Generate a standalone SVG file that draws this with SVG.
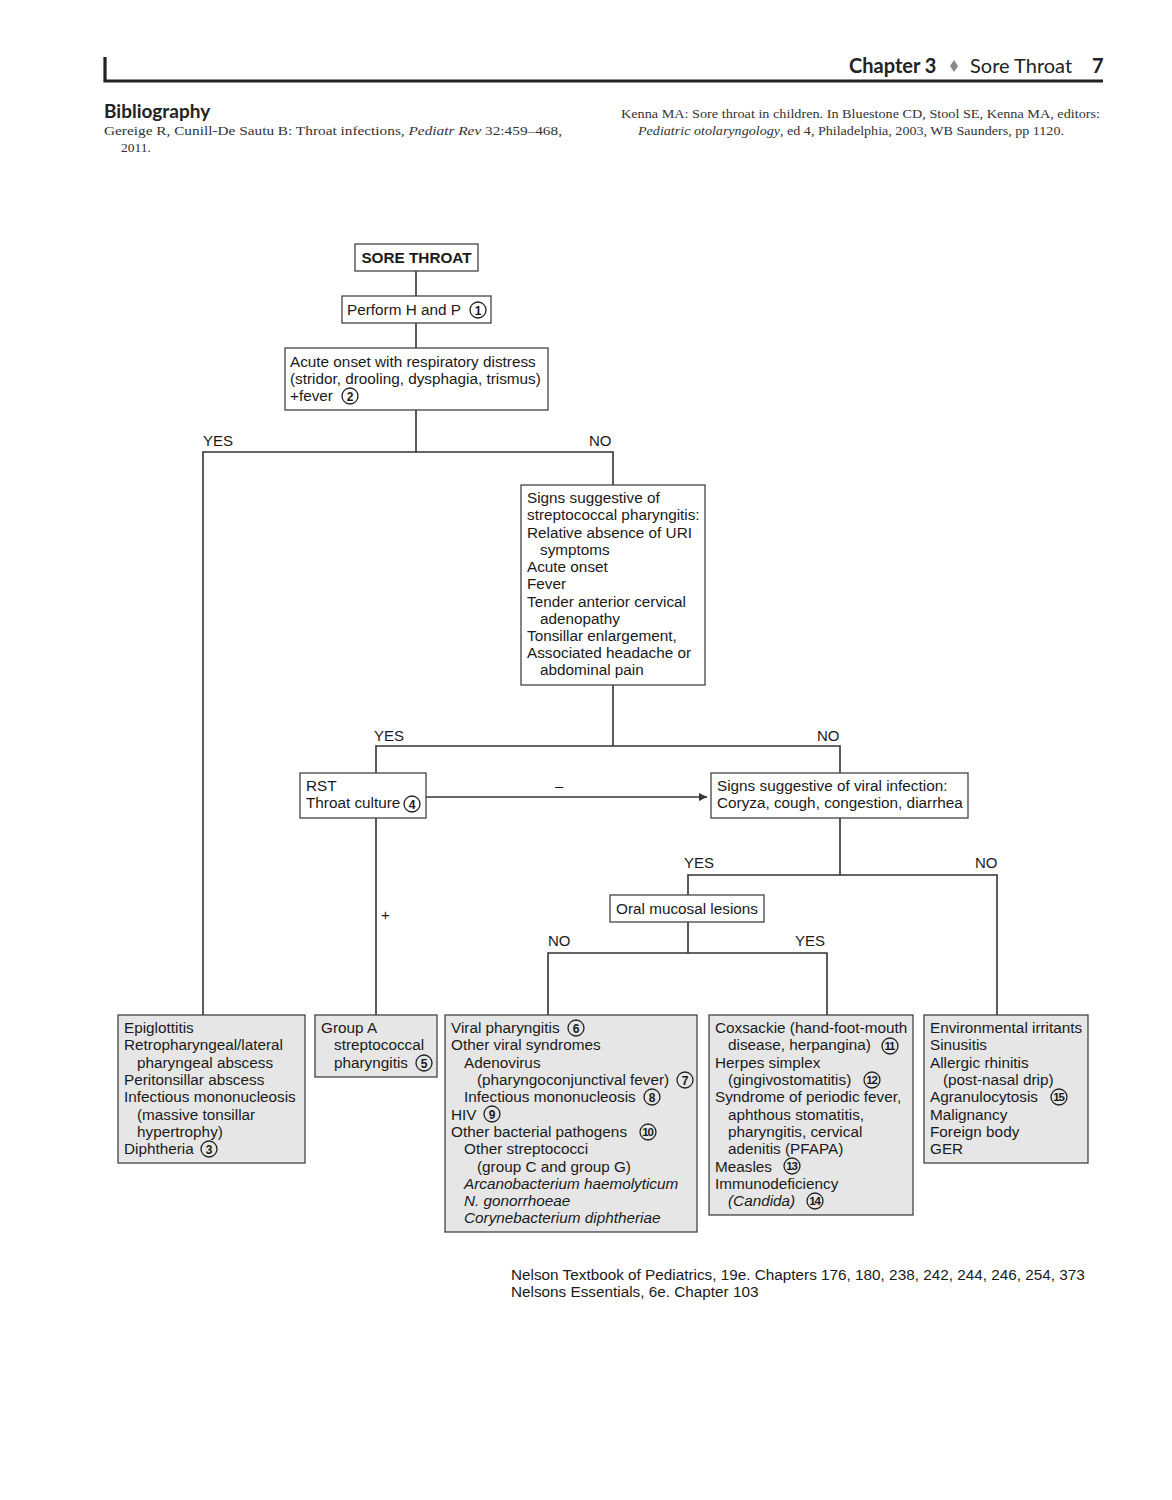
<svg xmlns="http://www.w3.org/2000/svg" width="1172" height="1500" viewBox="0 0 1172 1500">
<style>
.t{font-family:"Liberation Sans",Arial,sans-serif;font-size:15.3px;fill:#1a1a1a}
.b{font-weight:bold}
.i{font-style:italic}
.lbl{font-family:"Liberation Sans",Arial,sans-serif;font-size:15px;fill:#1a1a1a}
.box{fill:#fff;stroke:#444;stroke-width:1.3}
.gbox{fill:#e6e6e6;stroke:#444;stroke-width:1.3}
.ln{fill:none;stroke:#333;stroke-width:1.6}
.cc{fill:none;stroke:#222;stroke-width:1.3}
.cn{font-family:"Liberation Sans",Arial,sans-serif;font-size:12px;font-weight:bold;fill:#1a1a1a;text-anchor:middle}
.c2{font-size:11.5px;letter-spacing:-1.3px}
.hd{font-family:Lato,"Open Sans",sans-serif;fill:#222}
.ser{font-family:"Liberation Serif","Times New Roman",serif;font-size:13.5px;fill:#333}
</style>
<defs>
<marker id="ah" viewBox="0 0 10 10" refX="10" refY="5" markerWidth="11" markerHeight="8" markerUnits="userSpaceOnUse" orient="auto"><path d="M0,0 L10,5 L0,10 z" fill="#333"/></marker>
</defs>
<rect width="1172" height="1500" fill="#fff"/>

<g id="header">
<path d="M105,57 V81 H1103" fill="none" stroke="#222" stroke-width="3.2"/>
<text class="hd" x="849" y="73" font-size="20" font-weight="bold">Chapter 3</text>
<path d="M954,60 L958,66 L954,72 L950,66 z" fill="#888"/>
<text class="hd" x="970" y="73" font-size="20">Sore Throat</text>
<text class="hd" x="1092" y="73" font-size="20" font-weight="bold">7</text>
<text class="hd" x="104" y="118" font-size="19" font-weight="bold">Bibliography</text>
<text class="ser" x="104" y="135" textLength="458" lengthAdjust="spacingAndGlyphs">Gereige R, Cunill-De Sautu B: Throat infections, <tspan font-style="italic">Pediatr Rev</tspan> 32:459–468,</text>
<text class="ser" x="121" y="152">2011.</text>
<text class="ser" x="621" y="118" textLength="479" lengthAdjust="spacingAndGlyphs">Kenna MA: Sore throat in children. In Bluestone CD, Stool SE, Kenna MA, editors:</text>
<text class="ser" x="638" y="135" textLength="426" lengthAdjust="spacingAndGlyphs"><tspan font-style="italic">Pediatric otolaryngology</tspan>, ed 4, Philadelphia, 2003,  WB Saunders, pp 1120.</text>
</g>

<g id="connectors">
<path class="ln" d="M416,271 V296"/>
<path class="ln" d="M416,323 V348"/>
<path class="ln" d="M416,410 V452 M203,1015 V452 H613 V485"/>
<path class="ln" d="M613,685 V746 M376,773 V746 H840 V773"/>
<path class="ln" d="M426,797 H707" marker-end="url(#ah)"/>
<path class="ln" d="M376,818 V1015"/>
<path class="ln" d="M840,818 V875 M688,895 V875 H997 V1015"/>
<path class="ln" d="M688,922 V953 M548,1015 V953 H827 V1015"/>
<text class="lbl" x="203" y="446">YES</text>
<text class="lbl" x="589" y="446">NO</text>
<text class="lbl" x="374" y="741">YES</text>
<text class="lbl" x="817" y="741">NO</text>
<text class="lbl" x="555" y="791">–</text>
<text class="lbl" x="381" y="920">+</text>
<text class="lbl" x="684" y="868">YES</text>
<text class="lbl" x="975" y="868">NO</text>
<text class="lbl" x="548" y="946">NO</text>
<text class="lbl" x="795" y="946">YES</text>
</g>

<g id="sore-throat">
<rect class="box" x="355" y="244" width="123" height="27"/>
<text class="t b" x="416.5" y="263" text-anchor="middle">SORE THROAT</text>
</g>

<g id="perform-hp">
<rect class="box" x="342" y="296" width="149" height="27"/>
<text class="t" x="347" y="315">Perform H and P</text>
<circle class="cc" cx="478" cy="310" r="8"/><text class="cn" x="478" y="314.5">1</text>
</g>

<g id="acute-onset">
<rect class="box" x="285" y="348" width="263" height="62"/>
<text class="t" x="290" y="367">Acute onset with respiratory distress</text>
<text class="t" x="290" y="384">(stridor, drooling, dysphagia, trismus)</text>
<text class="t" x="290" y="401">+fever</text>
<circle class="cc" cx="350" cy="396" r="8"/><text class="cn" x="350" y="400.5">2</text>
</g>

<g id="strep-signs">
<rect class="box" x="521" y="485" width="184" height="200"/>
<text class="t" x="527" y="503">Signs suggestive of</text>
<text class="t" x="527" y="520">streptococcal pharyngitis:</text>
<text class="t" x="527" y="538">Relative absence of URI</text>
<text class="t" x="540" y="555">symptoms</text>
<text class="t" x="527" y="572">Acute onset</text>
<text class="t" x="527" y="589">Fever</text>
<text class="t" x="527" y="607">Tender anterior cervical</text>
<text class="t" x="540" y="624">adenopathy</text>
<text class="t" x="527" y="641">Tonsillar enlargement,</text>
<text class="t" x="527" y="658">Associated headache or</text>
<text class="t" x="540" y="675">abdominal pain</text>
</g>

<g id="rst">
<rect class="box" x="300" y="773" width="126" height="45"/>
<text class="t" x="306" y="791">RST</text>
<text class="t" x="306" y="808">Throat culture</text>
<circle class="cc" cx="412" cy="804" r="8"/><text class="cn" x="412" y="808.5">4</text>
</g>

<g id="viral-signs">
<rect class="box" x="711" y="773" width="257" height="45"/>
<text class="t" x="717" y="791">Signs suggestive of viral infection:</text>
<text class="t" x="717" y="808">Coryza, cough, congestion, diarrhea</text>
</g>

<g id="oral-lesions">
<rect class="box" x="610" y="895" width="154" height="27"/>
<text class="t" x="616" y="914">Oral mucosal lesions</text>
</g>

<g id="epiglottitis">
<rect class="gbox" x="118" y="1015" width="187" height="148"/>
<text class="t" x="124" y="1033">Epiglottitis</text>
<text class="t" x="124" y="1050">Retropharyngeal/lateral</text>
<text class="t" x="137" y="1068">pharyngeal abscess</text>
<text class="t" x="124" y="1085">Peritonsillar abscess</text>
<text class="t" x="124" y="1102">Infectious mononucleosis</text>
<text class="t" x="137" y="1120">(massive tonsillar</text>
<text class="t" x="137" y="1137">hypertrophy)</text>
<text class="t" x="124" y="1154">Diphtheria</text>
<circle class="cc" cx="209" cy="1149" r="8"/><text class="cn" x="209" y="1153.5">3</text>
</g>

<g id="group-a">
<rect class="gbox" x="315" y="1015" width="122" height="62"/>
<text class="t" x="321" y="1033">Group A</text>
<text class="t" x="334" y="1050">streptococcal</text>
<text class="t" x="334" y="1068">pharyngitis</text>
<circle class="cc" cx="424" cy="1063" r="8"/><text class="cn" x="424" y="1067.5">5</text>
</g>

<g id="viral-pharyngitis">
<rect class="gbox" x="445" y="1015" width="252" height="217"/>
<text class="t" x="451" y="1033">Viral pharyngitis</text>
<circle class="cc" cx="576" cy="1028" r="8"/><text class="cn" x="576" y="1032.5">6</text>
<text class="t" x="451" y="1050">Other viral syndromes</text>
<text class="t" x="464" y="1068">Adenovirus</text>
<text class="t" x="477" y="1085">(pharyngoconjunctival fever)</text>
<circle class="cc" cx="685" cy="1080" r="8"/><text class="cn" x="685" y="1084.5">7</text>
<text class="t" x="464" y="1102">Infectious mononucleosis</text>
<circle class="cc" cx="652" cy="1097" r="8"/><text class="cn" x="652" y="1101.5">8</text>
<text class="t" x="451" y="1120">HIV</text>
<circle class="cc" cx="492" cy="1114" r="8"/><text class="cn" x="492" y="1118.5">9</text>
<text class="t" x="451" y="1137">Other bacterial pathogens</text>
<circle class="cc" cx="648" cy="1132" r="8"/><text class="cn c2" x="647.4" y="1136.2">10</text>
<text class="t" x="464" y="1154">Other streptococci</text>
<text class="t" x="477" y="1172">(group C and group G)</text>
<text class="t i" x="464" y="1189">Arcanobacterium haemolyticum</text>
<text class="t i" x="464" y="1206">N. gonorrhoeae</text>
<text class="t i" x="464" y="1223">Corynebacterium diphtheriae</text>
</g>

<g id="coxsackie">
<rect class="gbox" x="709" y="1015" width="204" height="200"/>
<text class="t" x="715" y="1033">Coxsackie (hand-foot-mouth</text>
<text class="t" x="728" y="1050">disease, herpangina)</text>
<circle class="cc" cx="890" cy="1046" r="8"/><text class="cn c2" x="889.4" y="1050.2">11</text>
<text class="t" x="715" y="1068">Herpes simplex</text>
<text class="t" x="728" y="1085">(gingivostomatitis)</text>
<circle class="cc" cx="872" cy="1080" r="8"/><text class="cn c2" x="871.4" y="1084.2">12</text>
<text class="t" x="715" y="1102">Syndrome of periodic fever,</text>
<text class="t" x="728" y="1120">aphthous stomatitis,</text>
<text class="t" x="728" y="1137">pharyngitis, cervical</text>
<text class="t" x="728" y="1154">adenitis (PFAPA)</text>
<text class="t" x="715" y="1172">Measles</text>
<circle class="cc" cx="792" cy="1166" r="8"/><text class="cn c2" x="791.4" y="1170.2">13</text>
<text class="t" x="715" y="1189">Immunodeficiency</text>
<text class="t i" x="728" y="1206">(Candida)</text>
<circle class="cc" cx="815" cy="1201" r="8"/><text class="cn c2" x="814.4" y="1205.2">14</text>
</g>

<g id="environmental">
<rect class="gbox" x="924" y="1015" width="164" height="148"/>
<text class="t" x="930" y="1033">Environmental irritants</text>
<text class="t" x="930" y="1050">Sinusitis</text>
<text class="t" x="930" y="1068">Allergic rhinitis</text>
<text class="t" x="943" y="1085">(post-nasal drip)</text>
<text class="t" x="930" y="1102">Agranulocytosis</text>
<circle class="cc" cx="1059" cy="1097" r="8"/><text class="cn c2" x="1058.4" y="1101.2">15</text>
<text class="t" x="930" y="1120">Malignancy</text>
<text class="t" x="930" y="1137">Foreign body</text>
<text class="t" x="930" y="1154">GER</text>
</g>

<g id="footer">
<text class="t" x="511" y="1280">Nelson Textbook of Pediatrics, 19e. Chapters 176, 180, 238, 242, 244, 246, 254, 373</text>
<text class="t" x="511" y="1297">Nelsons Essentials, 6e. Chapter 103</text>
</g>
</svg>
